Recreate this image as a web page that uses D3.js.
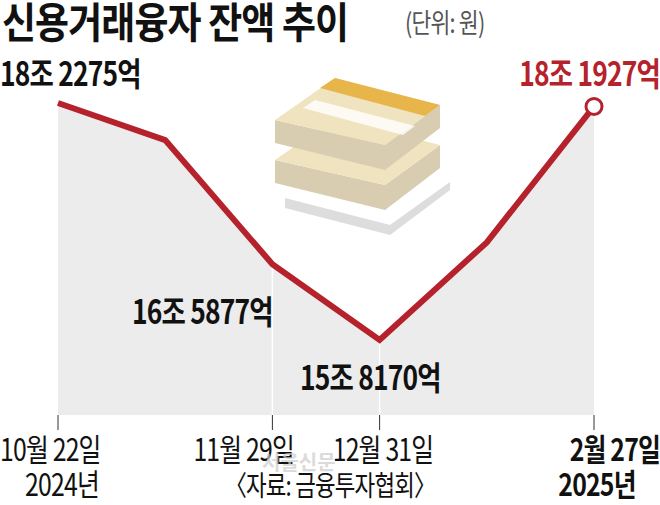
<!DOCTYPE html>
<html>
<head>
<meta charset="utf-8">
<script src="https://d3js.org/d3.v7.min.js"></script>
<style>body{margin:0;background:#fff}</style>
</head>
<body>
<script>
var dates = ["10/22", "11/08", "11/29", "12/31", "1/31", "2/27"];
var values = [18.2275, 17.85, 16.5877, 15.8170, 16.81, 18.1927];
var valueLabels = ["18조 2275억", "", "16조 5877억", "15조 8170억", "", "18조 1927억"];
var tickIdx = [0, 2, 3, 5];
var tickLine1 = ["10월 22일", "11월 29일", "12월 31일", "2월 27일"];
var tickLine2 = ["2024년", "", "", "2025년"];

var W = 660, H = 505, base = 415;
var font = "'Noto Sans CJK KR', sans-serif";
var svg = d3.select("body").append("svg").attr("width", W).attr("height", H);

function ctext(px, py, anchor, size, weight, color, t, sx) {
  return svg.append("text").attr("transform", "translate(" + px + "," + py + ") scale(" + (sx || 0.8) + ",1)")
    .attr("text-anchor", anchor).attr("font-family", font).attr("font-size", size)
    .attr("font-weight", weight).attr("fill", color).attr("letter-spacing", -1).text(t);
}

var x = d3.scalePoint().domain(d3.range(dates.length)).range([58, 594]);
var y = d3.scaleLinear().domain([15.817, 18.2275]).range([340, 103]);

var area = d3.area().x(function(d, i) { return x(i); }).y0(base).y1(function(d) { return y(d); });
svg.append("path").datum(values).attr("d", area).attr("fill", "#ececec");

[2, 3].forEach(function(i) {
  svg.append("line").attr("x1", x(i)).attr("x2", x(i)).attr("y1", y(values[i])).attr("y2", base)
    .attr("stroke", "#fff").attr("stroke-width", 1.5);
});
tickIdx.forEach(function(i) {
  svg.append("line").attr("x1", x(i)).attr("x2", x(i)).attr("y1", base).attr("y2", 430)
    .attr("stroke", "#333").attr("stroke-width", 1);
});

// money icon
var g = svg.append("g").attr("transform", "translate(275,70)");
function brick(dy) {
  g.append("path").attr("d", "M0," + (dy + 50) + " L110," + (dy + 75) + " L165," + (dy + 35) + " L165," + (dy + 58) + " L110," + (dy + 100) + " L0," + (dy + 73) + "Z").attr("fill", "#d8cdb0");
  g.append("path").attr("d", "M0," + (dy + 50) + " L60," + (dy + 8) + " L165," + (dy + 35) + " L110," + (dy + 75) + "Z").attr("fill", "#f0e4c0");
}
g.append("path").attr("d", "M10,128 L115,155 L175,112 L175,120 L115,165 L10,138Z").attr("fill", "#ddd");
brick(40);
brick(0);
g.append("path").attr("d", "M60,8 L165,35 L150,46 L45,18Z").attr("fill", "#e8b54a");
g.append("path").attr("d", "M40,30 L140,56 L128,65 L28,38Z").attr("fill", "#fff").attr("opacity", 0.8);

svg.append("path").datum(values)
  .attr("d", d3.line().x(function(d, i) { return x(i); }).y(function(d) { return y(d); }))
  .attr("fill", "none").attr("stroke", "#b5222c").attr("stroke-width", 6).attr("stroke-linejoin", "miter");
svg.append("circle").attr("cx", x(5)).attr("cy", y(values[5])).attr("r", 8)
  .attr("fill", "#fff").attr("stroke", "#b5222c").attr("stroke-width", 3);

var labelPos = [[0, 86, "start", "#111"], null, [132, 324, "start", "#111"], [300, 390, "start", "#111"], null, [660, 86, "end", "#b5222c"]];
valueLabels.forEach(function(t, i) {
  if (!t) return;
  var p = labelPos[i];
  ctext(p[0], p[1], p[2], 33, "bold", p[3], t);
});

var tickX = [0, 294, 383, 660];
var tickAnchor = ["start", "end", "middle", "end"];
tickIdx.forEach(function(i, k) {
  var bold = i === 5 ? "bold" : "normal";
  ctext(tickX[k], 461, tickAnchor[k], 31, bold, "#111", tickLine1[k]);
  if (tickLine2[k]) ctext(i === 0 ? 62 : 597, 496, "middle", 31, bold, "#111", tickLine2[k]);
});

svg.append("text").attr("x", 262).attr("y", 470).attr("font-family", font).attr("font-size", 20)
  .attr("font-weight", "bold").attr("fill", "#ccc").attr("opacity", 0.7).text("서울신문");
ctext(330, 496, "middle", 28, "normal", "#111", "〈자료: 금융투자협회〉");

ctext(2, 38, "start", 42, "bold", "#111", "신용거래융자 잔액 추이", 0.88);
ctext(405, 33, "start", 27, "normal", "#555", "(단위: 원)");
</script>
</body>
</html>
